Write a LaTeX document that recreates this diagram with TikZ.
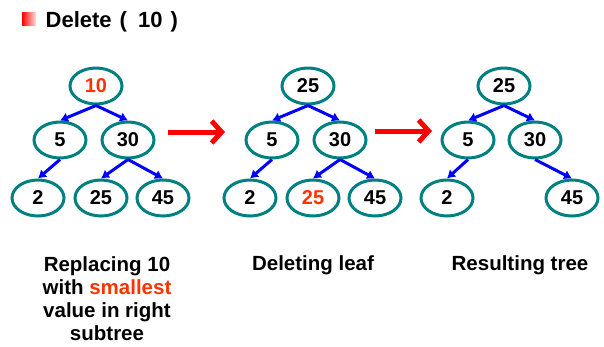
\documentclass[tikz,border=0pt]{standalone}
\usepackage{fontspec}
\setmainfont{Liberation Sans}
\usetikzlibrary{shapes.geometric,arrows.meta}
\definecolor{tealc}{RGB}{0,128,128}
\definecolor{hot}{RGB}{255,51,0}
\definecolor{arrowblue}{RGB}{0,0,255}
\begin{document}
\begin{tikzpicture}[x=1pt,y=-1pt,
  tn/.style={ellipse,draw=tealc,line width=3pt,minimum width=52pt,minimum height=36pt,inner sep=0pt,font=\fontsize{20}{24}\selectfont\bfseries},
  childedge/.style={draw=arrowblue,line width=3pt,-{Latex[length=8pt,width=10pt]}},
  bigarrow/.style={draw=red,line width=5pt,-{Straight Barb[length=10pt,width=22pt]}},
  captext/.style={font=\fontsize{20.5}{23}\selectfont\bfseries,align=center,anchor=base,inner sep=0pt}]
\useasboundingbox (0,0) rectangle (604,346);
% title
\shade[left color=red,right color=red!12] (22,12) rectangle (36,25);
\node[anchor=base west,inner sep=0pt,font=\fontsize{22}{26}\selectfont\bfseries] (title) at (45.5,27.5) {Delete\hspace{8pt}(\hspace{11pt}10\hspace{8pt})};
% tree 1
\node[tn] (a1) at (96,86) {\textcolor{hot}{10}};
\node[tn] (a2) at (60,140) {5};
\node[tn] (a3) at (128,140) {30};
\node[tn] (a4) at (38,198) {2};
\node[tn] (a5) at (101,198) {25};
\node[tn] (a6) at (163,198) {45};
\draw[childedge] (a1.south) -- (a2.north);
\draw[childedge] (a1.south) -- (a3.north);
\draw[childedge] (a2.south) -- (a4.north);
\draw[childedge] (a3.south) -- (a5.north);
\draw[childedge] (a3.south) -- (a6.north);
% tree 2
\node[tn] (b1) at (308,86) {25};
\node[tn] (b2) at (272,140) {5};
\node[tn] (b3) at (340,140) {30};
\node[tn] (b4) at (250,198) {2};
\node[tn] (b5) at (313,198) {\textcolor{hot}{25}};
\node[tn] (b6) at (375,198) {45};
\draw[childedge] (b1.south) -- (b2.north);
\draw[childedge] (b1.south) -- (b3.north);
\draw[childedge] (b2.south) -- (b4.north);
\draw[childedge] (b3.south) -- (b5.north);
\draw[childedge] (b3.south) -- (b6.north);
% tree 3
\node[tn] (c1) at (504,86) {25};
\node[tn] (c2) at (468,140) {5};
\node[tn] (c3) at (535,140) {30};
\node[tn] (c4) at (447,198) {2};
\node[tn] (c6) at (572,198) {45};
\draw[childedge] (c1.south) -- (c2.north);
\draw[childedge] (c1.south) -- (c3.north);
\draw[childedge] (c2.south) -- (c4.north);
\draw[childedge] (c3.south) -- (c6.north);
% red step arrows
\coordinate (r1s) at (168,132);
\coordinate (r1e) at (225,132);
\coordinate (r2s) at (375,131);
\coordinate (r2e) at (432,131);
\draw[bigarrow] (r1s) -- (r1e);
\draw[bigarrow] (r2s) -- (r2e);
% captions
\node[captext] (l1) at (107,340.7) {Replacing 10\\with \textcolor{hot}{smallest}\\value in right\\subtree};
\node[captext] (l2) at (313,270.5) {Deleting leaf};
\node[captext] (l3) at (520,270.5) {Resulting tree};
\end{tikzpicture}
\end{document}
